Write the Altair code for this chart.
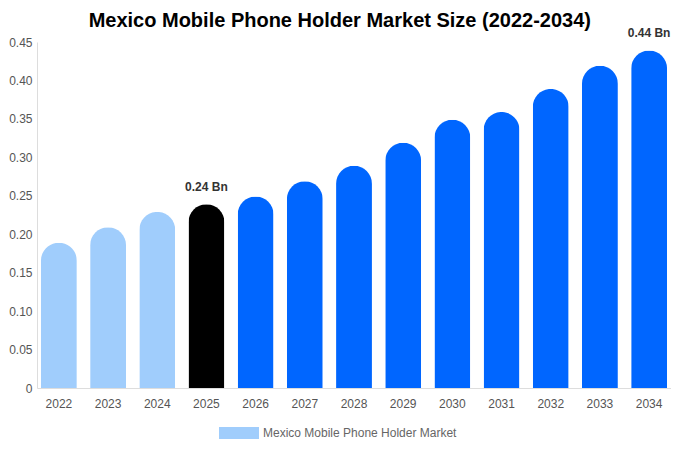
import altair as alt
import pandas as pd

years = ["2022", "2023", "2024", "2025", "2026", "2027", "2028", "2029", "2030", "2031", "2032", "2033", "2034"]
values = [0.189, 0.209, 0.229, 0.239, 0.249, 0.269, 0.289, 0.319, 0.349, 0.359, 0.389, 0.419, 0.439]
bar_colors = ["#a0cdfc", "#a0cdfc", "#a0cdfc", "#000000", "#0066ff", "#0066ff", "#0066ff",
              "#0066ff", "#0066ff", "#0066ff", "#0066ff", "#0066ff", "#0066ff"]
labels = ["", "", "", "0.24 Bn", "", "", "", "", "", "", "", "", "0.44 Bn"]
series_name = "Mexico Mobile Phone Holder Market"
y_ticks = [0, 0.05, 0.1, 0.15, 0.2, 0.25, 0.3, 0.35, 0.4, 0.45]

df = pd.DataFrame({"year": years, "value": values, "shade": bar_colors,
                   "label": labels, "series": series_name})

x = alt.X("year:O", title=None, sort=years,
          scale=alt.Scale(paddingInner=0.27, paddingOuter=0.08),
          axis=alt.Axis(labelAngle=0, labelColor="#555555", labelFontSize=12,
                        labelFont="Liberation Sans", ticks=False, labelPadding=10,
                        domainColor="#dddddd"))
y = alt.Y("value:Q", title=None,
          scale=alt.Scale(domain=[0, 0.45], nice=False),
          axis=alt.Axis(values=y_ticks, grid=False, ticks=False, labelColor="#555555",
                        labelFontSize=12, labelFont="Liberation Sans", labelPadding=5,
                        domainColor="#dddddd",
                        labelExpr="datum.value == 0 ? '0' : format(datum.value, '.2f')"))

base = alt.Chart(df)

bars = base.mark_bar(cornerRadiusTopLeft=18, cornerRadiusTopRight=18).encode(
    x=x, y=y, fill=alt.Fill("shade:N", scale=None)
)

legend_layer = base.mark_square(opacity=0, size=1).encode(
    x=x, y=y,
    color=alt.Color("series:N", scale=alt.Scale(domain=[series_name], range=["#a0cdfc"]),
                    legend=alt.Legend(title=None, orient="none", legendX=182, legendY=371,
                                      direction="horizontal",
                                      symbolType="M-1,-0.3L1,-0.3L1,0.3L-1,0.3Z",
                                      symbolSize=1600, symbolOpacity=1,
                                      symbolStrokeWidth=0, labelLimit=0,
                                      labelColor="#666666", labelFontSize=12,
                                      labelFont="Liberation Sans"))
)

text = base.mark_text(baseline="bottom", dy=-10, fontWeight="bold", fontSize=12,
                      font="Liberation Sans", color="#333333").encode(
    x=x, y=y, text="label:N"
)

chart = alt.layer(bars, legend_layer, text).properties(
    width=634, height=346,
    padding={"top": 3, "left": 0, "right": 0, "bottom": 0},
    title=alt.TitleParams(series_name + " Size (2022-2034)", fontSize=20, fontWeight="bold",
                          font="Liberation Sans", color="#000000", anchor="middle",
                          frame="bounds", offset=-4),
).configure_view(stroke=None)

chart.save("out.html", embed_options={"renderer": "svg", "actions": False})
